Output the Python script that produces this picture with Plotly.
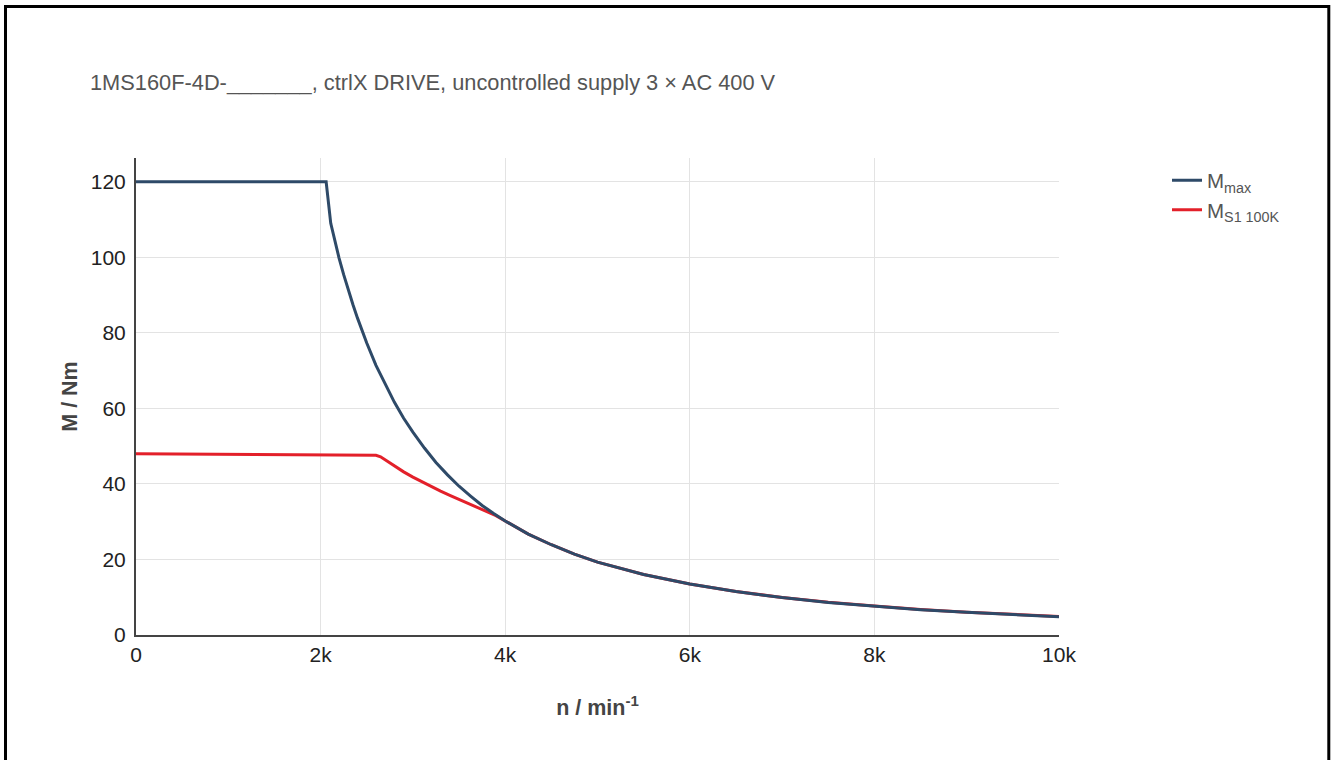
import plotly.graph_objects as go

# Speed n / min^-1 and torque M / Nm
speed_max = [0, 2060, 2110, 2150, 2200, 2250, 2300, 2350, 2400, 2450, 2500, 2600,
             2700, 2800, 2900, 3000, 3125, 3250, 3375, 3500, 3625, 3750, 3875,
             4000, 4250, 4500, 4750, 5000, 5500, 6000, 6500, 7000, 7500, 8000,
             8500, 9000, 9500, 10000]
torque_max = [120, 120, 109, 104.5, 99.8, 95.4, 91.3, 87.5, 83.9, 80.5, 77.3, 71.4,
              66.3, 61.6, 57.4, 53.7, 49.5, 45.7, 42.4, 39.4, 36.8, 34.3, 32.2,
              30.2, 26.7, 23.9, 21.4, 19.3, 16.0, 13.5, 11.5, 9.9, 8.6, 7.6,
              6.7, 6.0, 5.35, 4.85]

speed_s1 = [0, 1000, 2000, 2550, 2600, 2650, 2700, 2750, 2800, 2900, 3000, 3100,
            3200, 3300, 3400, 3500, 3600, 3700, 3800, 3900, 4000, 4250, 4500,
            4750, 5000, 5500, 6000, 6500, 7000, 7500, 8000, 8500, 9000, 9500, 10000]
torque_s1 = [48, 47.9, 47.8, 47.7, 47.6, 47.2, 46.4, 45.5, 44.7, 43.2, 41.8, 40.5,
             39.3, 38.1, 37.0, 35.9, 34.9, 33.8, 32.7, 31.6, 30.2, 26.7, 23.9,
             21.4, 19.3, 16.0, 13.5, 11.5, 9.95, 8.65, 7.65, 6.75, 6.05, 5.4, 4.9]

title_text = "1MS160F-4D-_______, ctrlX DRIVE, uncontrolled supply 3 × AC 400 V"
name_max = "M<sub>max</sub>"
name_s1 = "M<sub>S1 100K</sub>"
x_ticks = [0, 2000, 4000, 6000, 8000, 10000]
y_ticks = [0, 20, 40, 60, 80, 100, 120]

FONT = "Arial, Liberation Sans, sans-serif"
W, H = 1338, 760
L, R, T, B = 136, 279, 158, 125
pw, ph = W - L - R, H - T - B

fig = go.Figure()
fig.add_trace(go.Scatter(x=speed_s1, y=torque_s1, mode="lines", name=name_s1,
                         line=dict(color="#e3202a", width=3), legendrank=2))
fig.add_trace(go.Scatter(x=speed_max, y=torque_max, mode="lines", name=name_max,
                         line=dict(color="#2e4a68", width=3), legendrank=1))

def px2paper_x(px):
    return (px - L) / pw

def px2paper_y(py):
    return (H - B - py) / ph

fig.add_shape(type="rect", xref="paper", yref="paper",
              x0=px2paper_x(5.5), x1=px2paper_x(1328.8),
              y0=px2paper_y(780), y1=px2paper_y(6.5),
              line=dict(color="black", width=3), fillcolor="rgba(0,0,0,0)")

fig.update_layout(
    width=W, height=H, autosize=False,
    margin=dict(l=L, r=R, t=T, b=B),
    paper_bgcolor="white", plot_bgcolor="white",
    font=dict(family=FONT, size=21, color="#222"),
    title=dict(text=title_text, x=90 / W, xanchor="left", xref="container",
               y=1 - 82 / H, yanchor="middle", yref="container",
               font=dict(family=FONT, size=21.8, color="#555")),
    legend=dict(x=px2paper_x(1167), xanchor="left", y=0.995, yanchor="top",
                font=dict(family=FONT, size=20.5, color="#555"),
                bgcolor="rgba(0,0,0,0)"),
    xaxis=dict(range=[0, 10000], tickvals=x_ticks, tickformat="~s",
               showgrid=True, gridcolor="#e3e3e3", gridwidth=1,
               showline=True, linecolor="#444", linewidth=2,
               zeroline=False, ticks="",
               tickfont=dict(family=FONT, size=21, color="#222"),
               title=dict(text="<b>n / min<sup>-1</sup></b>", standoff=35,
                          font=dict(family=FONT, size=21.5, color="#444"))),
    yaxis=dict(range=[0, 126.3], tickvals=y_ticks,
               showgrid=True, gridcolor="#e3e3e3", gridwidth=1,
               showline=True, linecolor="#444", linewidth=2,
               zeroline=False, ticks="", ticklabelstandoff=4,
               tickfont=dict(family=FONT, size=21, color="#222"),
               title=dict(text="<b>M / Nm</b>", standoff=7,
                          font=dict(family=FONT, size=21.5, color="#444"))),
)

fig.write_html("out.html", config={"displayModeBar": False},
               post_script="document.body.style.margin='0';")
